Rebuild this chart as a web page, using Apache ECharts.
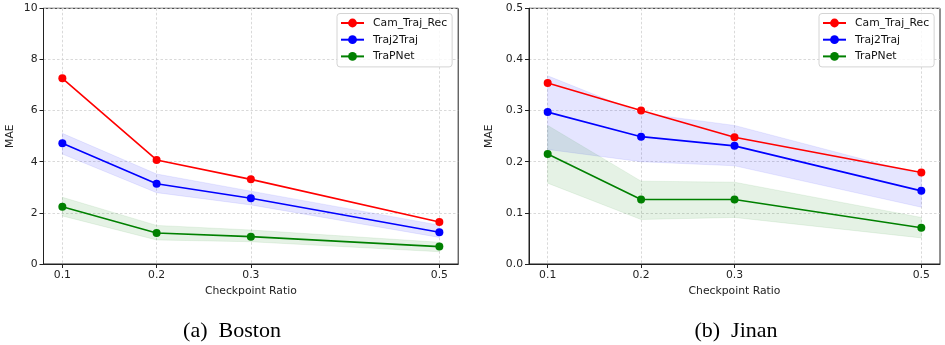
<!DOCTYPE html>
<html>
<head>
<meta charset="utf-8">
<script src="https://cdn.jsdelivr.net/npm/echarts@6/dist/echarts.min.js"></script>
<style>
html,body{margin:0;padding:0;background:#fff;}
#chart{width:945px;height:345px;}
</style>
</head>
<body>
<div id="chart"></div>
<script>
// Checkpoint ratios (x values)
const ratios = [0.1, 0.2, 0.3, 0.5];
const xTicks = [0.1, 0.2, 0.3, 0.5];
const seriesNames = ['Cam_Traj_Rec', 'Traj2Traj', 'TraPNet'];
const captions = ['(a)  Boston', '(b)  Jinan'];

// Boston
const bostonCam = [7.26, 4.07, 3.31, 1.64];
const bostonTraj2Traj = [4.72, 3.14, 2.57, 1.24];
const bostonTraj2TrajLo = [4.30, 2.79, 2.31, 1.04];
const bostonTraj2TrajHi = [5.11, 3.52, 2.85, 1.52];
const bostonTrapNet = [2.24, 1.21, 1.07, 0.68];
const bostonTrapNetLo = [1.88, 0.94, 0.87, 0.48];
const bostonTrapNetHi = [2.61, 1.51, 1.33, 0.85];

// Jinan
const jinanCam = [0.354, 0.300, 0.248, 0.179];
const jinanTraj2Traj = [0.297, 0.249, 0.231, 0.143];
const jinanTraj2TrajLo = [0.224, 0.200, 0.192, 0.111];
const jinanTraj2TrajHi = [0.368, 0.295, 0.271, 0.175];
const jinanTrapNet = [0.215, 0.126, 0.126, 0.071];
const jinanTrapNetLo = [0.158, 0.087, 0.091, 0.051];
const jinanTrapNetHi = [0.271, 0.162, 0.160, 0.091];

const FONT = 'DejaVu Sans';
const FS = 10.8;
const colors = ['#ff0000', '#0000ff', '#008000'];

function pts(ys) { return ratios.map((x, i) => [x, ys[i]]); }

function lineSeries(name, ys, color, idx) {
  return {
    type: 'line', name: name, data: pts(ys),
    xAxisIndex: idx, yAxisIndex: idx,
    symbol: 'circle', symbolSize: 8,
    lineStyle: { color: color, width: 1.6 },
    itemStyle: { color: color },
    z: 5, animation: false
  };
}

function bandSeries(lo, hi, fill, idx) {
  return {
    type: 'custom', xAxisIndex: idx, yAxisIndex: idx,
    data: ratios.map((x, i) => [x, lo[i], hi[i]]),
    encode: { x: 0, y: [1, 2] },
    silent: true, z: 1, animation: false,
    renderItem: function (params, api) {
      if (params.dataIndex !== 0) return null;
      const top = ratios.map((x, i) => api.coord([x, hi[i]]));
      const bot = ratios.map((x, i) => api.coord([x, lo[i]])).reverse();
      return {
        type: 'polygon',
        shape: { points: top.concat(bot) },
        style: { fill: fill, stroke: fill, lineWidth: 0.8 }
      };
    }
  };
}

function xAxis(idx) {
  return {
    type: 'value', gridIndex: idx, min: 0.08, max: 0.52,
    name: 'Checkpoint Ratio', nameLocation: 'middle', nameGap: 22,
    nameTextStyle: { fontFamily: FONT, fontSize: FS, color: '#222' },
    axisLine: { show: true, onZero: false, lineStyle: { color: '#222', width: 1 } },
    axisTick: { show: true, length: 4, customValues: xTicks, lineStyle: { color: '#222' } },
    axisLabel: { customValues: xTicks, fontFamily: FONT, fontSize: FS, color: '#222', margin: 6,
      formatter: v => v.toFixed(1) },
    splitLine: { show: true, lineStyle: { color: '#cfcfcf', type: [2.5, 2], width: 0.8 } }
  };
}

function yAxis(idx, max, interval, dec) {
  return {
    type: 'value', gridIndex: idx, min: 0, max: max, interval: interval,
    name: 'MAE', nameLocation: 'middle', nameGap: idx === 0 ? 28 : 34, nameRotate: 90,
    nameTextStyle: { fontFamily: FONT, fontSize: FS, color: '#222' },
    axisLine: { show: true, lineStyle: { color: '#222', width: 1 } },
    axisTick: { show: true, length: 4, lineStyle: { color: '#222' } },
    axisLabel: { fontFamily: FONT, fontSize: FS, color: '#222', margin: 6,
      formatter: v => v.toFixed(dec) },
    splitLine: { show: true, lineStyle: { color: '#cfcfcf', type: [2.5, 2], width: 0.8 } }
  };
}

function legend(left) {
  return {
    data: seriesNames, orient: 'vertical', left: left, top: 13.5,
    itemWidth: 23, itemHeight: 11, itemGap: 3.7,
    padding: [3, 5, 4, 3],
    backgroundColor: 'rgba(255,255,255,0.8)',
    borderColor: '#d4d4d4', borderWidth: 1, borderRadius: 3,
    textStyle: { fontFamily: FONT, fontSize: FS, color: '#111', lineHeight: 13, padding: [0, 0, 0, 4] }
  };
}

const option = {
  backgroundColor: '#fff',
  animation: false,
  grid: [
    { left: 43.5, top: 8.3, width: 414.7, height: 255.7, show: true, borderColor: '#222', borderWidth: 1, backgroundColor: 'transparent' },
    { left: 529, top: 8.3, width: 411, height: 255.7, show: true, borderColor: '#222', borderWidth: 1, backgroundColor: 'transparent' }
  ],
  xAxis: [xAxis(0), xAxis(1)],
  yAxis: [yAxis(0, 10, 2, 0), yAxis(1, 0.5, 0.1, 1)],
  legend: [legend(337), legend(819)],
  graphic: [
    { type: 'text', x: 232, y: 331, style: { text: captions[0], fontFamily: 'Liberation Serif', fontSize: 22, fill: '#000', textAlign: 'center', textVerticalAlign: 'middle' } },
    { type: 'text', x: 736, y: 331, style: { text: captions[1], fontFamily: 'Liberation Serif', fontSize: 22, fill: '#000', textAlign: 'center', textVerticalAlign: 'middle' } }
  ],
  series: [
    bandSeries(bostonTraj2TrajLo, bostonTraj2TrajHi, 'rgba(0,0,255,0.1)', 0),
    bandSeries(bostonTrapNetLo, bostonTrapNetHi, 'rgba(0,128,0,0.1)', 0),
    lineSeries(seriesNames[0], bostonCam, colors[0], 0),
    lineSeries(seriesNames[1], bostonTraj2Traj, colors[1], 0),
    lineSeries(seriesNames[2], bostonTrapNet, colors[2], 0),
    bandSeries(jinanTraj2TrajLo, jinanTraj2TrajHi, 'rgba(0,0,255,0.1)', 1),
    bandSeries(jinanTrapNetLo, jinanTrapNetHi, 'rgba(0,128,0,0.1)', 1),
    lineSeries(seriesNames[0], jinanCam, colors[0], 1),
    lineSeries(seriesNames[1], jinanTraj2Traj, colors[1], 1),
    lineSeries(seriesNames[2], jinanTrapNet, colors[2], 1)
  ]
};

const chart = echarts.init(document.getElementById('chart'), null, { renderer: 'canvas' });
chart.setOption(option);
</script>
</body>
</html>
